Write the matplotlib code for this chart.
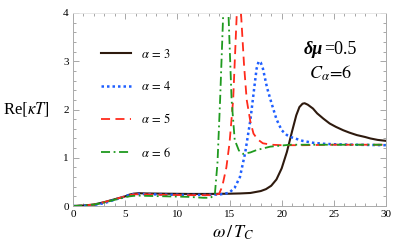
import numpy as np
import matplotlib
matplotlib.use("Agg")
import matplotlib.pyplot as plt
from matplotlib.ticker import MultipleLocator

plt.rcParams.update({
    "font.family": ["Liberation Serif", "DejaVu Serif"],
    "mathtext.fontset": "stix",
    "font.size": 8,
})

# --- values
x_a3 = [0, 1, 2, 3, 4, 5, 5.4, 5.8, 6.3, 7, 9, 11, 13, 15, 16, 17, 17.5, 18, 18.5, 19,
        19.5, 20, 20.5, 21, 21.4, 21.7, 22.0, 22.2, 22.5, 23, 23.4, 24, 24.6, 25.2, 25.9,
        26.5, 27.2, 28, 28.5, 29.2, 30]
y_a3 = [0, 0.01, 0.03, 0.08, 0.14, 0.2, 0.235, 0.255, 0.265, 0.26, 0.255, 0.25, 0.25,
        0.255, 0.26, 0.27, 0.29, 0.31, 0.35, 0.42, 0.55, 0.78, 1.12, 1.55, 1.88, 2.05,
        2.12, 2.13, 2.1, 2.02, 1.92, 1.81, 1.71, 1.64, 1.57, 1.52, 1.47, 1.43, 1.40, 1.37,
        1.35]

x_a4 = [0, 1, 2, 3, 4, 5, 5.4, 5.8, 6.3, 7, 9, 11, 13, 14, 14.5, 15, 15.5, 16, 16.5, 17,
        17.4, 17.6, 17.8, 18.0, 18.2, 18.6, 19, 19.5, 20, 20.5, 21, 22, 23, 24, 25, 27, 30]
y_a4 = [0, 0.0, 0.02, 0.06, 0.13, 0.2, 0.23, 0.245, 0.25, 0.245, 0.235, 0.23, 0.23, 0.24,
        0.25, 0.28, 0.38, 0.6, 1.1, 1.78, 2.5, 2.85, 3.0, 2.97, 2.85, 2.45, 2.15, 1.8,
        1.57, 1.47, 1.42, 1.35, 1.31, 1.29, 1.28, 1.27, 1.26]

x_a5 = [0, 1, 2, 3, 4, 5, 5.4, 5.8, 6.3, 7, 9, 11, 13, 13.5, 14, 14.3, 14.7, 15.0, 15.35,
        15.7, 15.9, 16.1, 16.4, 16.65, 17.0, 17.3, 17.7, 18.2, 19, 20, 22, 25, 30]
y_a5 = [0, 0.01, 0.03, 0.08, 0.14, 0.2, 0.225, 0.24, 0.245, 0.24, 0.23, 0.225, 0.225,
        0.23, 0.25, 0.4, 0.8, 1.3, 2.2, 4.0, 4.6, 4.0, 2.9, 2.2, 1.75, 1.5, 1.38, 1.3,
        1.27, 1.26, 1.26, 1.27, 1.27]

x_a6 = [0, 1, 2, 3, 4, 5, 5.4, 5.8, 6.3, 7, 9, 11, 12.5, 13.2, 13.6, 13.85, 14.1, 14.4,
        14.65, 14.9, 15.2, 15.5, 15.9, 16.3, 17, 17.6, 18.9, 20.8, 25, 30]
y_a6 = [0, 0.01, 0.03, 0.07, 0.13, 0.18, 0.2, 0.21, 0.215, 0.21, 0.2, 0.19, 0.17, 0.17,
        0.25, 0.9, 2.2, 4.0, 4.8, 4.0, 2.2, 1.37, 1.15, 1.08, 1.11, 1.16, 1.23, 1.27,
        1.27, 1.27]

labels = [r"$\alpha\,=\,3$", r"$\alpha\,=\,4$", r"$\alpha\,=\,5$", r"$\alpha\,=\,6$"]

fig = plt.figure(figsize=(4.15, 2.5), dpi=100)
ax = fig.add_axes([73/415, 1-206/250, 313/415, 193/250])

ax.plot(x_a3, y_a3, color="#2e1a0e", lw=1.5, label=labels[0])
ax.plot(x_a4, y_a4, color="#1f5fff", lw=1.8, ls=(0, (1, 1.2)), label=labels[1])
ax.plot(x_a5, y_a5, color="#ff2b1c", lw=1.3, ls=(0, (5, 3)), label=labels[2])
ax.plot(x_a6, y_a6, color="#1f9a1f", lw=1.3, ls=(0, (5, 2, 1, 2)), label=labels[3])

ax.set_xlim(0, 30)
ax.set_ylim(0, 4)
ax.xaxis.set_major_locator(MultipleLocator(5))
ax.xaxis.set_minor_locator(MultipleLocator(1))
ax.yaxis.set_major_locator(MultipleLocator(1))
ax.yaxis.set_minor_locator(MultipleLocator(0.2))
ax.tick_params(which="both", direction="in", top=True, right=True,
               color="#999999", width=0.6, labelsize=8, pad=3)
ax.tick_params(which="major", length=4)
ax.tick_params(which="minor", length=2)
for side in ["left", "bottom", "right"]:
    ax.spines[side].set_color("#aaaaaa")
    ax.spines[side].set_linewidth(0.7)
ax.spines["top"].set_color("#e4e4e4")
ax.spines["top"].set_linewidth(0.6)

leg = ax.legend(loc="upper left", bbox_to_anchor=(0.09, 0.82), frameon=False,
                fontsize=9, handlelength=2.4, handletextpad=0.8, labelspacing=1.55,
                borderpad=0, borderaxespad=0)

fig.text(3/415, 1-110/250, r"Re$[\kappa T]$", fontsize=12, ha="left", va="center")
fig.text(233/415, 1-233/250, r"$\omega\,/\,T_C$", fontsize=13, ha="center", va="center")

fig.text(323/415, 1-50/250, "δμ", fontsize=13, fontweight="bold", style="italic",
         ha="right", va="center")
fig.text(324/415, 1-50/250, "=0.5", fontsize=13, ha="left", va="center")
fig.text(331/415, 1-73/250, r"$C_{\alpha}\!=\!6$", fontsize=13, ha="center", va="center")

fig.savefig("out.png", dpi=100)
